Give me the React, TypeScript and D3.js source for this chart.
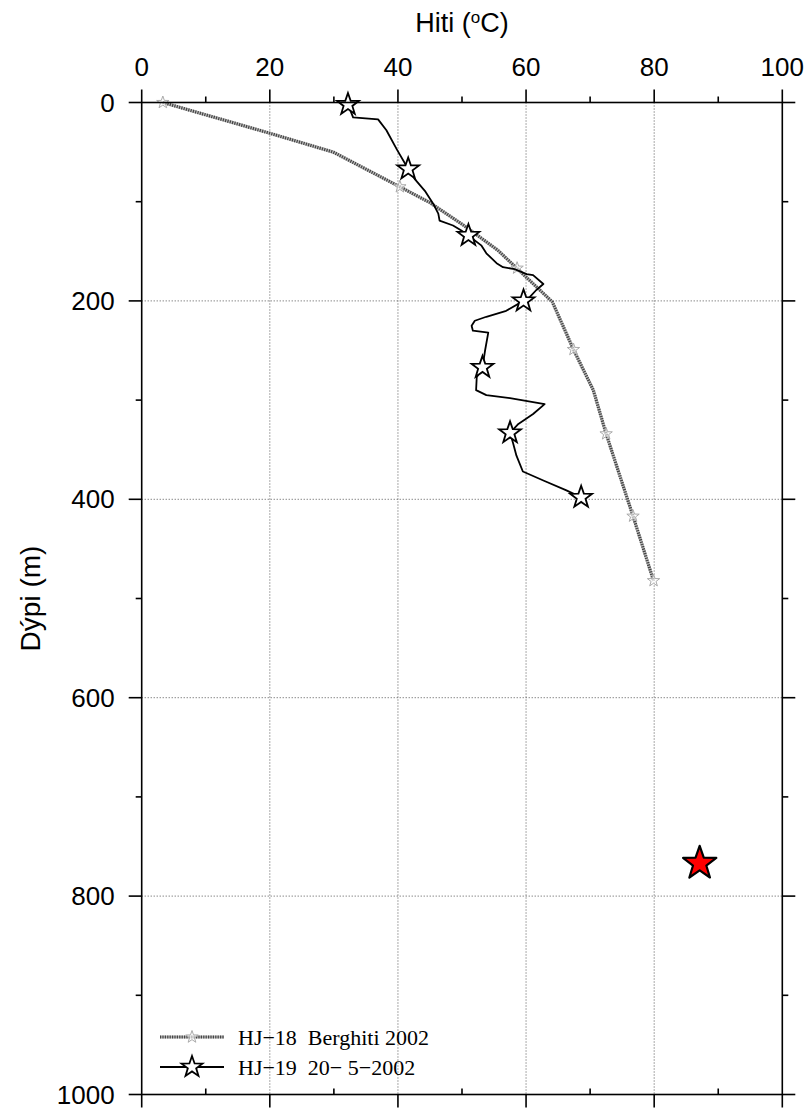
import React from "react";
import * as d3 from "d3";

// HJ-18 Berghiti 2002: line vertices (temperature °C, depth m)
const hj18Temp = [3.3, 20.0, 29.9, 40.3, 45.0, 50.3, 55.6, 59.2, 64.1, 67.4, 70.5, 72.5, 76.7, 79.9];
const hj18Depth = [0, 31, 50, 85, 101, 124, 149, 171, 201, 249, 290, 334, 417, 482];
// HJ-18 marker points
const hj18MarkTemp = [3.3, 40.3, 58.6, 67.4, 72.5, 76.7, 79.9];
const hj18MarkDepth = [0, 85, 167, 249, 334, 417, 482];

// HJ-19 20-5-2002: line vertices
const hj19Temp = [32.2, 33.0, 36.9, 38.2, 39.8, 41.6, 42.6, 44.2, 45.5, 46.3, 46.5, 48.6, 49.9, 51.0, 53.0, 53.8, 55.4, 56.4, 58.2, 60.1, 61.1, 62.7, 61.6, 60.6, 59.6, 56.9, 53.8, 52.0, 51.5, 51.7, 54.1, 53.6, 53.2, 52.3, 52.2, 53.8, 57.5, 62.9, 61.1, 58.8, 57.5, 58.0, 58.5, 59.5, 62.7, 66.3, 68.6];
const hj19Depth = [2, 15, 17, 28, 47, 67, 77, 89, 102, 112, 119, 124, 129, 134, 144, 152, 162, 166, 168, 173, 174, 183, 189, 196, 200, 210, 216, 220, 225, 230, 232, 250, 267, 277, 290, 295, 298, 304, 314, 324, 333, 344, 356, 372, 381, 391, 398];
// HJ-19 marker points
const hj19MarkTemp = [32.2, 41.6, 51.0, 59.6, 53.2, 57.5, 68.6];
const hj19MarkDepth = [2, 67, 134, 200, 267, 333, 398];

// red target star
const targetTemp = [87.1];
const targetDepth = [767];

const xMajor = [0, 20, 40, 60, 80, 100];
const xMinor = [10, 30, 50, 70, 90];
const yMajor = [0, 200, 400, 600, 800, 1000];
const yMinor = [100, 300, 500, 700, 900];

const legendLabels = ["HJ\u221218  Berghiti 2002", "HJ\u221219  20\u2212 5\u22122002"];

function starPath(cx: number, cy: number, R: number, ratio = 0.4): string {
  const pts: string[] = [];
  for (let i = 0; i < 10; i++) {
    const r = i % 2 === 0 ? R : R * ratio;
    const a = -Math.PI / 2 + (i * Math.PI) / 5;
    pts.push(`${(cx + r * Math.cos(a)).toFixed(2)},${(cy + r * Math.sin(a)).toFixed(2)}`);
  }
  return "M" + pts.join("L") + "Z";
}

export default function App() {
  const W = 809, H = 1108;
  const x = d3.scaleLinear().domain([0, 100]).range([141.7, 782.3]);
  const y = d3.scaleLinear().domain([0, 1000]).range([102.5, 1094.5]);
  const [x0, x1] = x.range();
  const [y0, y1] = y.range();

  const line = d3.line<[number, number]>().x((d) => x(d[0])).y((d) => y(d[1]));
  const hj18 = hj18Temp.map((t, i) => [t, hj18Depth[i]] as [number, number]);
  const hj19 = hj19Temp.map((t, i) => [t, hj19Depth[i]] as [number, number]);

  const tickFont = "Liberation Sans, Arial, Helvetica, sans-serif";
  const majorLen = 13, minorLen = 6;

  return (
    <svg width={W} height={H} style={{ position: "absolute", left: 0, top: 0, background: "#fff" }}>
      {/* grid */}
      {xMajor.filter((v) => v > 0 && v < 100).map((v) => (
        <line key={"gx" + v} x1={x(v)} x2={x(v)} y1={y0} y2={y1} stroke="#555" strokeWidth={1} strokeDasharray="1,2" />
      ))}
      {yMajor.filter((v) => v > 0 && v < 1000).map((v) => (
        <line key={"gy" + v} x1={x0} x2={x1} y1={y(v)} y2={y(v)} stroke="#555" strokeWidth={1} strokeDasharray="1,2" />
      ))}

      {/* HJ-18 hatched line */}
      <path d={line(hj18) || ""} fill="none" stroke="#bbb" strokeWidth={3.2} />
      <path d={line(hj18) || ""} fill="none" stroke="#444" strokeWidth={3.2} strokeDasharray="1.2,1.2" />
      {hj18MarkTemp.map((t, i) => (
        <path key={"m18" + i} d={starPath(x(t), y(hj18MarkDepth[i]), 6.5)} fill="#fff" fillOpacity={0.6} stroke="#aaa" strokeWidth={1} />
      ))}

      {/* HJ-19 line */}
      <path d={line(hj19) || ""} fill="none" stroke="#000" strokeWidth={1.8} strokeLinejoin="round" />
      {hj19MarkTemp.map((t, i) => (
        <path key={"m19" + i} d={starPath(x(t), y(hj19MarkDepth[i]), 11.5)} fill="#fff" stroke="#000" strokeWidth={1.8} />
      ))}

      {/* red star */}
      {targetTemp.map((t, i) => (
        <path key={"r" + i} d={starPath(x(t), y(targetDepth[i]), 17.5)} fill="#ff0000" stroke="#000" strokeWidth={2.2} strokeLinejoin="round" />
      ))}

      {/* frame */}
      <rect x={x0} y={y0} width={x1 - x0} height={y1 - y0} fill="none" stroke="#000" strokeWidth={1.6} />

      {/* x ticks top & bottom */}
      {xMajor.map((v) => (
        <g key={"xt" + v}>
          <line x1={x(v)} x2={x(v)} y1={y0} y2={y0 - majorLen} stroke="#000" strokeWidth={1.6} />
          <line x1={x(v)} x2={x(v)} y1={y1} y2={y1 + majorLen} stroke="#000" strokeWidth={1.6} />
          <text x={x(v)} y={y0 - 27} textAnchor="middle" fontFamily={tickFont} fontSize={26}>{v}</text>
        </g>
      ))}
      {xMinor.map((v) => (
        <g key={"xm" + v}>
          <line x1={x(v)} x2={x(v)} y1={y0} y2={y0 - minorLen} stroke="#000" strokeWidth={1.6} />
          <line x1={x(v)} x2={x(v)} y1={y1} y2={y1 - minorLen} stroke="#000" strokeWidth={1.6} />
        </g>
      ))}

      {/* y ticks left & right */}
      {yMajor.map((v) => (
        <g key={"yt" + v}>
          <line x1={x0} x2={x0 - majorLen} y1={y(v)} y2={y(v)} stroke="#000" strokeWidth={1.6} />
          <line x1={x1} x2={x1 + majorLen} y1={y(v)} y2={y(v)} stroke="#000" strokeWidth={1.6} />
          <text x={x0 - 27} y={y(v) + 9} textAnchor="end" fontFamily={tickFont} fontSize={26}>{v}</text>
        </g>
      ))}
      {yMinor.map((v) => (
        <g key={"ym" + v}>
          <line x1={x0} x2={x0 - minorLen} y1={y(v)} y2={y(v)} stroke="#000" strokeWidth={1.6} />
          <line x1={x1} x2={x1 + minorLen} y1={y(v)} y2={y(v)} stroke="#000" strokeWidth={1.6} />
        </g>
      ))}

      {/* axis titles */}
      <text x={(x0 + x1) / 2} y={32} textAnchor="middle" fontFamily={tickFont} fontSize={27}>
        Hiti (<tspan fontSize={17} dy={-9}>o</tspan><tspan dy={9}>C)</tspan>
      </text>
      <text transform={`translate(40,${(y0 + y1) / 2 + 0}) rotate(-90)`} textAnchor="middle" fontFamily={tickFont} fontSize={28}>
        Dýpi (m)
      </text>

      {/* legend */}
      <g>
        <line x1={160} x2={224} y1={1037} y2={1037} stroke="#bbb" strokeWidth={3} />
        <line x1={160} x2={224} y1={1037} y2={1037} stroke="#444" strokeWidth={3} strokeDasharray="1.2,1.2" />
        <path d={starPath(192, 1037, 6.5)} fill="#fff" fillOpacity={0.6} stroke="#aaa" strokeWidth={1} />
        <text x={238} y={1045} fontFamily="Liberation Serif, Times New Roman, serif" fontSize={22} style={{ whiteSpace: "pre" }}>{legendLabels[0]}</text>
        <line x1={160} x2={224} y1={1067} y2={1067} stroke="#000" strokeWidth={1.8} />
        <path d={starPath(192, 1067, 11)} fill="#fff" stroke="#000" strokeWidth={1.8} />
        <text x={238} y={1075} fontFamily="Liberation Serif, Times New Roman, serif" fontSize={22} style={{ whiteSpace: "pre" }}>{legendLabels[1]}</text>
      </g>
    </svg>
  );
}
